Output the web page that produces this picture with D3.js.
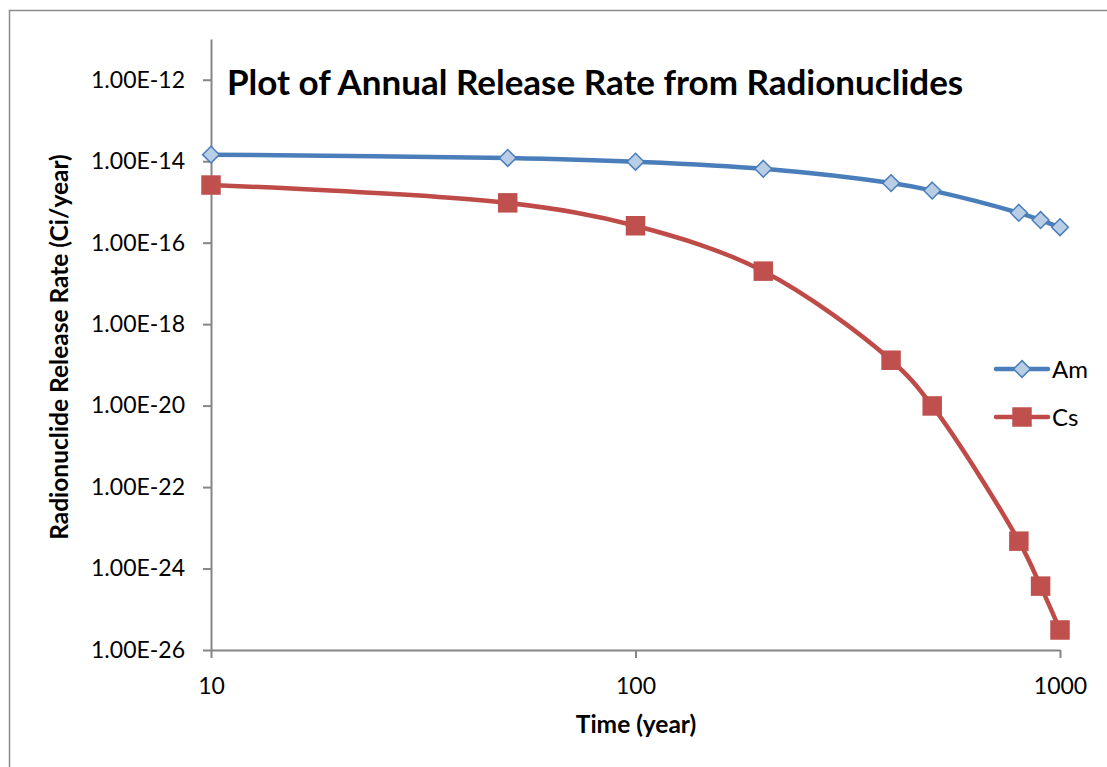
<!DOCTYPE html>
<html>
<head>
<meta charset="utf-8">
<script src="https://cdn.jsdelivr.net/npm/d3@7"></script>
<style>
  body { margin: 0; background: #fff; }
  svg { display: block; font-family: Lato, "Open Sans", sans-serif; }
</style>
</head>
<body>
<div id="chart"></div>
<script>
// Annual release rate, log-log

var years = [10, 50, 100, 200, 400, 500, 800, 900, 1000]
var am = [1.45e-14, 1.2e-14, 9.7e-15, 6.5e-15, 2.9e-15, 1.9e-15, 5.4e-16, 3.6e-16, 2.4e-16]
var cs = [2.6e-15, 9.5e-16, 2.6e-16, 2.0e-17, 1.3e-19, 9.8e-21, 4.7e-24, 3.7e-25, 3.1e-26]
var seriesNames = ['Am', 'Cs']
var xTicks = [10, 100, 1000]
var yTicks = [1e-12, 1e-14, 1e-16, 1e-18, 1e-20, 1e-22, 1e-24, 1e-26]

var width = 1107, height = 767

var x = d3.scaleLog()
    .domain([10, 1000])
    .range([211, 1060])

var y = d3.scaleLog()
    .domain([1e-26, 1e-11])
    .range([650, 39])

var svg = d3.select('#chart')
  .append('svg')
    .attr('width', width)
    .attr('height', height)

// chart frame
svg.append('rect')
    .attr('x', 9.5)
    .attr('y', 10.5)
    .attr('width', 1120)
    .attr('height', 780)
    .attr('fill', 'none')
    .attr('stroke', '#8c8c8c')
    .attr('stroke-width', 1.5)

var fmt = d => '1.00E' + Math.round(Math.log10(d))

var xAxis = g => g
    .attr('transform', 'translate(0,650)')
    .call(d3.axisBottom(x).tickValues(xTicks).tickFormat(d3.format('d')).tickSize(8).tickSizeOuter(0))
    .call(g => g.select('.domain').attr('stroke', '#868686').attr('stroke-width', 2))
    .call(g => g.selectAll('.tick line').attr('stroke', '#868686').attr('stroke-width', 2))
    .call(g => g.selectAll('.tick text')
        .attr('y', 28)
        .attr('font-size', 23)
        .attr('font-family', 'Lato, sans-serif')
        .attr('fill', '#000'))

var yAxis = g => g
    .attr('transform', 'translate(211,0)')
    .call(d3.axisLeft(y).tickValues(yTicks).tickFormat(fmt).tickSize(8).tickSizeOuter(0))
    .call(g => g.select('.domain').attr('stroke', '#868686').attr('stroke-width', 2))
    .call(g => g.selectAll('.tick line').attr('stroke', '#868686').attr('stroke-width', 2))
    .call(g => g.selectAll('.tick text')
        .attr('x', -26)
        .attr('font-size', 23)
        .attr('font-family', 'Lato, sans-serif')
        .attr('fill', '#000'))

svg.append('g').call(xAxis)
svg.append('g').call(yAxis)

// titles
svg.append('text')
    .attr('x', 227)
    .attr('y', 95)
    .attr('font-size', 35)
    .attr('font-weight', 'bold')
    .text('Plot of Annual Release Rate from Radionuclides')

svg.append('text')
    .attr('x', 636)
    .attr('y', 733)
    .attr('text-anchor', 'middle')
    .attr('font-size', 24.5)
    .attr('font-weight', 'bold')
    .text('Time (year)')

svg.append('text')
    .attr('transform', 'translate(68,347) rotate(-90)')
    .attr('text-anchor', 'middle')
    .attr('font-size', 24.5)
    .attr('font-weight', 'bold')
    .text('Radionuclide Release Rate (Ci/year)')

var series = [
  {name: seriesNames[0], values: am, color: '#4a7ebb', fill: '#b9cde5', shape: d3.symbolDiamond2, size: 180},
  {name: seriesNames[1], values: cs, color: '#be4b48', fill: '#c0504d', shape: d3.symbolSquare, size: 380}
]

var line = d3.line()
    .x((d, i) => x(years[i]))
    .y(d => y(d))
    .curve(d3.curveCatmullRom.alpha(0.5))

series.forEach(function(s) {
  svg.append('path')
      .attr('d', line(s.values))
      .attr('fill', 'none')
      .attr('stroke', s.color)
      .attr('stroke-width', 4.5)
      .attr('stroke-linejoin', 'round')
      .attr('stroke-linecap', 'round')

  svg.append('g')
    .selectAll('path')
    .data(s.values)
    .join('path')
      .attr('transform', (d, i) => 'translate(' + x(years[i]) + ',' + y(d) + ')')
      .attr('d', d3.symbol(s.shape, s.size))
      .attr('fill', s.fill)
      .attr('stroke', s.name == 'Am' ? s.color : 'none')
      .attr('stroke-width', 1.5)
})

// legend
var legend = svg.append('g')
  .selectAll('g')
  .data(series)
  .join('g')
    .attr('transform', (d, i) => 'translate(0,' + (369 + i * 48) + ')')

legend.append('line')
    .attr('x1', 996)
    .attr('x2', 1048)
    .attr('stroke', d => d.color)
    .attr('stroke-width', 4.5)
    .attr('stroke-linecap', 'round')

legend.append('path')
    .attr('transform', 'translate(1022,0)')
    .attr('d', d => d3.symbol(d.shape, d.size)())
    .attr('fill', d => d.fill)
    .attr('stroke', d => d.name == 'Am' ? d.color : 'none')
    .attr('stroke-width', 1.5)

legend.append('text')
    .attr('x', 1052)
    .attr('y', 9)
    .attr('font-size', 24)
    .text(d => d.name)
</script>
</body>
</html>
